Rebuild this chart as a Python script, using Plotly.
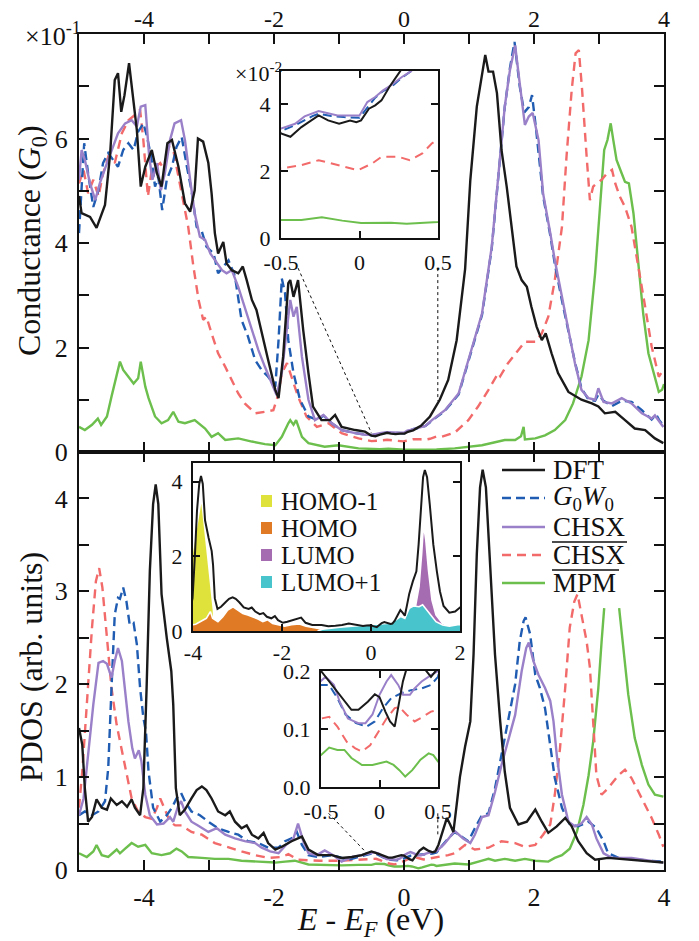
import plotly.graph_objects as go

W, H = 699, 941
FONT = "Liberation Serif"
INK = "#111111"

# ---------------- data: top panel, conductance in units of 1e-1 G0 ----------------
dft_top_x = [-5.0, -4.96, -4.83, -4.73, -4.6, -4.52, -4.45, -4.40, -4.35, -4.30, -4.23, -4.16, -4.11, -4.05,
             -3.98, -3.88, -3.80, -3.73, -3.64, -3.57, -3.47, -3.37, -3.29, -3.22, -3.17, -3.09, -3.01, -2.96,
             -2.91, -2.86, -2.78, -2.73, -2.65, -2.55, -2.48, -2.42, -2.34, -2.27, -2.19, -2.09, -1.98, -1.93,
             -1.86, -1.78, -1.75, -1.70, -1.63, -1.55, -1.47, -1.40, -1.27, -1.14, -1.06, -0.96, -0.75, -0.60,
             -0.5, -0.44, -0.37, -0.26, -0.20, -0.13, -0.06, -0.02, 0.01, 0.06, 0.10, 0.14, 0.19, 0.26,
             0.40, 0.55, 0.68, 0.81, 0.94, 1.02, 1.12, 1.20, 1.25, 1.30, 1.37, 1.43, 1.50, 1.58, 1.66, 1.73,
             1.81, 1.89, 1.96, 2.04, 2.12, 2.18, 2.27, 2.37, 2.53, 2.73, 2.89, 2.99, 3.09, 3.25, 3.40, 3.55,
             3.71, 3.86, 3.99]
dft_top_y = [4.9, 4.57, 4.5, 4.29, 4.73, 5.72, 7.12, 7.25, 6.51, 6.83, 7.44, 6.68, 6.16, 5.08,
             5.46, 5.78, 5.33, 5.08, 5.91, 5.97, 5.46, 4.76, 4.60, 5.01, 6.0, 5.94, 5.53, 4.95,
             4.19, 3.80, 4.02, 3.61, 3.48, 3.42, 3.55, 3.29, 2.91, 2.72, 2.27, 1.76, 1.19, 1.03,
             1.82, 3.23, 3.29, 2.97, 3.29, 2.33, 1.51, 0.87, 0.61, 0.61, 0.71, 0.48, 0.42, 0.39,
             0.313, 0.303, 0.332, 0.367, 0.352, 0.342, 0.352, 0.347, 0.352, 0.387, 0.397, 0.412, 0.452, 0.50,
             0.68, 1.0, 1.38, 2.14, 3.5, 5.2, 6.61, 7.25, 7.6, 7.28, 7.28, 6.87, 5.78, 5.08, 4.31, 3.55,
             3.29, 3.16, 2.78, 2.40, 2.14, 2.27, 1.89, 1.51, 1.15, 1.0, 0.93, 0.87, 0.74, 0.77, 0.61, 0.45,
             0.42, 0.26, 0.17]

g0w0_top_x = [-5.0, -4.96, -4.92, -4.86, -4.78, -4.70, -4.63, -4.55, -4.47, -4.40, -4.32, -4.24, -4.16, -4.09,
              -4.01, -3.96, -3.89, -3.83, -3.78, -3.72, -3.65, -3.57, -3.50, -3.42, -3.34, -3.27, -3.19, -3.11,
              -3.04, -2.93, -2.86, -2.78, -2.70, -2.60, -2.50, -2.40, -2.29, -2.19, -2.09, -1.98, -1.93, -1.88,
              -1.83, -1.78, -1.70, -1.60, -1.47, -1.32, -1.24, -1.11, -0.96, -0.75, -0.60,
              -0.5, -0.4, -0.3, -0.26, -0.18, -0.1, 0.0, 0.05, 0.1, 0.15, 0.2, 0.27, 0.33,
              0.43, 0.63, 0.84, 0.99, 1.20, 1.35, 1.45, 1.55, 1.63, 1.70, 1.78, 1.85, 1.92, 1.97, 2.03, 2.10,
              2.14, 2.25, 2.32, 2.43, 2.53, 2.63, 2.73, 2.84, 2.94, 2.99, 3.07, 3.2, 3.35, 3.5, 3.66, 3.81,
              3.88, 3.93, 4.0]
g0w0_top_y = [4.19, 5.14, 5.91, 5.33, 4.69, 5.01, 5.53, 5.72, 5.59, 5.46, 5.78, 5.91, 5.78, 6.13,
              6.29, 6.07, 5.65, 5.08, 5.27, 4.63, 5.21, 5.46, 5.84, 6.03, 5.46, 5.01, 4.31, 4.22,
              3.93, 3.80, 3.42, 3.55, 3.67, 3.36, 2.53, 2.21, 1.76, 1.57, 1.44, 1.25, 2.14, 3.32,
              3.04, 2.14, 1.51, 1.00, 0.68, 0.61, 0.70, 0.55, 0.42, 0.36, 0.33,
              0.32, 0.34, 0.365, 0.372, 0.365, 0.362, 0.36, 0.39, 0.42, 0.44, 0.452, 0.48, 0.50,
              0.60, 0.79, 1.10, 1.74, 2.62, 3.90, 5.30, 6.60, 7.35, 7.85, 7.0, 6.5, 6.6, 6.83, 6.2, 5.4,
              4.9, 4.15, 3.6, 2.9, 2.3, 1.72, 1.22, 1.0, 0.98, 1.1, 0.98, 0.88, 0.98, 0.96, 0.8, 0.62,
              0.72, 0.6, 0.5]

chsx_top_x = [-5.0, -4.96, -4.91, -4.83, -4.75, -4.68, -4.57, -4.50, -4.40, -4.29, -4.19, -4.11, -4.05, -3.98,
              -3.92, -3.87, -3.80, -3.74, -3.68, -3.60, -3.53, -3.43, -3.37, -3.29, -3.22, -3.14, -3.06, -2.98,
              -2.91, -2.80, -2.73, -2.65, -2.55, -2.45, -2.34, -2.24, -2.14, -2.04, -1.96, -1.88, -1.78, -1.75,
              -1.70, -1.65, -1.57, -1.47, -1.37, -1.24, -1.11, -0.96, -0.75, -0.60,
              -0.5, -0.41, -0.35, -0.26, -0.14, -0.06, 0.0, 0.05, 0.10, 0.15, 0.20, 0.27, 0.33,
              0.43, 0.63, 0.84, 0.99, 1.20, 1.35, 1.45, 1.55, 1.63, 1.71, 1.78, 1.86, 1.92, 1.98, 2.07, 2.14,
              2.25, 2.32, 2.43, 2.53, 2.63, 2.73, 2.84, 2.94, 2.99, 3.07, 3.20, 3.35, 3.50, 3.66, 3.81, 3.86,
              3.99]
chsx_top_y = [5.21, 5.78, 5.59, 5.14, 4.82, 5.14, 5.53, 5.78, 6.10, 6.29, 6.35, 6.23, 6.61, 6.64,
              5.65, 5.21, 5.53, 5.01, 5.33, 5.97, 6.29, 6.35, 5.97, 5.21, 4.57, 4.12, 4.06, 3.80,
              3.67, 3.48, 3.42, 3.48, 3.16, 2.78, 2.33, 1.95, 1.63, 1.31, 1.09, 1.51, 2.65, 2.91,
              2.59, 2.78, 1.82, 1.0, 0.61, 0.71, 0.55, 0.42, 0.36, 0.33,
              0.328, 0.342, 0.364, 0.380, 0.367, 0.367, 0.367, 0.407, 0.422, 0.442, 0.457, 0.482, 0.50,
              0.61, 0.80, 1.12, 1.76, 2.65, 3.93, 5.33, 6.61, 7.31, 7.78, 7.06, 6.26, 6.42, 6.49, 5.97, 4.95,
              4.19, 3.67, 2.97, 2.33, 1.70, 1.19, 1.03, 1.0, 1.22, 0.96, 0.93, 1.03, 0.93, 0.74, 0.64, 0.70,
              0.48]

chsxbar_top_x = [-5.0, -4.93, -4.86, -4.78, -4.70, -4.63, -4.55, -4.45, -4.34, -4.24, -4.14, -4.06, -4.01, -3.94,
                 -3.88, -3.82, -3.75, -3.69, -3.62, -3.55, -3.47, -3.40, -3.32, -3.24, -3.16, -3.09, -3.04, -2.96,
                 -2.86, -2.75, -2.65, -2.55, -2.45, -2.29, -2.14, -2.01, -1.93, -1.88, -1.80, -1.73, -1.63, -1.50,
                 -1.34, -1.16, -0.96, -0.70,
                 -0.5, -0.37, -0.26, -0.14, -0.01, 0.08, 0.14, 0.25, 0.32, 0.40, 0.46, 0.5,
                 0.58, 0.78, 0.99, 1.14, 1.30, 1.45, 1.48, 1.60, 1.76, 1.86, 2.02, 2.12, 2.22, 2.32, 2.43, 2.50,
                 2.58, 2.64, 2.69, 2.74, 2.81, 2.86, 2.91, 2.96, 3.04, 3.12, 3.20, 3.25, 3.32, 3.40, 3.50, 3.61,
                 3.71, 3.81, 3.92, 3.99]
chsxbar_top_y = [5.14, 5.40, 4.95, 5.21, 4.89, 5.33, 5.65, 5.53, 6.10, 6.35, 6.45, 6.55, 5.97, 4.89,
                 5.40, 5.46, 5.53, 5.40, 5.84, 5.78, 5.27, 4.89, 4.31, 3.55, 2.91, 2.53, 2.59, 2.27,
                 1.89, 1.63, 1.38, 1.12, 0.93, 0.74, 0.77, 0.80, 1.12, 1.51, 1.70, 1.44, 1.06, 0.68,
                 0.48, 0.55, 0.36, 0.26,
                 0.208, 0.218, 0.233, 0.218, 0.203, 0.223, 0.243, 0.243, 0.233, 0.253, 0.283, 0.295,
                 0.29, 0.37, 0.61, 0.87, 1.19, 1.51, 1.45, 1.70, 1.95, 2.11, 2.11, 2.27, 2.59, 3.29, 4.31, 5.65,
                 6.93, 7.63, 7.69, 6.93, 5.65, 4.82, 5.08, 5.14, 5.21, 5.33, 5.40, 5.14, 4.89, 4.69, 4.31, 3.55,
                 2.78, 2.02, 1.44, 1.57]

mpm_top_x = [-5.0, -4.91, -4.80, -4.71, -4.66, -4.57, -4.50, -4.42, -4.37, -4.32, -4.24, -4.16, -4.09, -4.05,
             -3.98, -3.93, -3.83, -3.73, -3.63, -3.55, -3.47, -3.37, -3.22, -3.06, -2.96, -2.86, -2.75, -2.55,
             -2.34, -2.14, -1.98, -1.88, -1.78, -1.75, -1.70, -1.66, -1.57, -1.47, -1.22, -1.01, -0.70,
             -0.5, -0.37, -0.24, -0.11, 0.01, 0.2, 0.3, 0.5,
             0.78, 1.20, 1.55, 1.71, 1.80, 1.84, 1.86, 2.02, 2.17, 2.32, 2.48, 2.60, 2.73, 2.84, 2.94, 3.02,
             3.08, 3.13, 3.18, 3.22, 3.27, 3.35, 3.40, 3.46, 3.53, 3.61, 3.68, 3.76, 3.84, 3.92, 3.97, 4.0]
mpm_top_y = [0.48, 0.42, 0.52, 0.64, 0.52, 0.68, 1.06, 1.51, 1.73, 1.57, 1.44, 1.31, 1.41, 1.73,
             1.25, 1.03, 0.68, 0.55, 0.61, 0.77, 0.58, 0.55, 0.61, 0.45, 0.29, 0.36, 0.23, 0.26,
             0.20, 0.15, 0.13, 0.29, 0.55, 0.61, 0.52, 0.61, 0.29, 0.17, 0.10, 0.13, 0.07,
             0.054, 0.054, 0.062, 0.052, 0.045, 0.046, 0.043, 0.048,
             0.07, 0.13, 0.23, 0.23, 0.30, 0.48, 0.24, 0.26, 0.32, 0.42, 0.61, 0.93, 1.44, 2.14, 3.42, 4.69,
             5.78, 5.97, 6.29, 5.97, 5.59, 5.33, 5.17, 5.14, 4.57, 3.55, 2.65, 1.89, 1.51, 1.15, 1.19, 1.3]

# ---------------- data: bottom panel, PDOS (arb. units) ----------------
dft_bot_x = [-5.0, -4.95, -4.91, -4.86, -4.80, -4.73, -4.65, -4.57, -4.51, -4.42, -4.34, -4.26, -4.19, -4.14,
             -4.06, -4.01, -3.96, -3.91, -3.86, -3.82, -3.78, -3.73, -3.65, -3.58, -3.55, -3.51, -3.45, -3.37,
             -3.27, -3.19, -3.11, -3.04, -2.96, -2.86, -2.75, -2.68, -2.60, -2.50, -2.42, -2.34, -2.24, -2.16,
             -2.09, -1.98, -1.88, -1.73, -1.57, -1.47, -1.32, -1.11, -0.96, -0.80, -0.65,
             -0.5, -0.38, -0.29, -0.24, -0.18, -0.10, -0.04, 0.0, 0.05, 0.09, 0.13, 0.16, 0.20, 0.24, 0.30,
             0.38, 0.44, 0.48,
             0.53, 0.61, 0.66, 0.71, 0.76, 0.81, 0.86, 0.94, 1.02, 1.07, 1.12, 1.17, 1.21, 1.26, 1.32, 1.40,
             1.48, 1.55, 1.63, 1.76, 1.89, 2.02, 2.12, 2.22, 2.35, 2.48, 2.58, 2.68, 2.81, 2.94, 3.14, 3.45,
             3.76, 3.99]
dft_bot_y = [1.53, 1.35, 0.88, 0.52, 0.57, 0.76, 0.67, 0.65, 0.77, 0.70, 0.74, 0.68, 0.76, 0.67,
             0.59, 0.88, 1.96, 3.22, 3.94, 4.15, 3.94, 2.97, 2.50, 2.14, 1.78, 0.88, 0.59, 0.65,
             0.77, 0.86, 0.90, 0.86, 0.77, 0.63, 0.59, 0.63, 0.52, 0.45, 0.48, 0.38, 0.34, 0.40,
             0.29, 0.22, 0.25, 0.31, 0.36, 0.22, 0.16, 0.16, 0.13, 0.14, 0.16,
             0.20, 0.17, 0.147, 0.133, 0.133, 0.147, 0.16, 0.155, 0.13, 0.113, 0.104, 0.136, 0.182, 0.21, 0.24,
             0.205, 0.19, 0.20,
             0.27, 0.45, 0.56, 0.49, 0.41, 0.70, 1.0, 1.33, 1.60, 2.32, 3.40, 4.12, 4.31, 4.12, 3.40, 2.32,
             1.60, 1.06, 0.67, 0.49, 0.52, 0.65, 0.52, 0.40, 0.47, 0.56, 0.47, 0.31, 0.18, 0.11, 0.13, 0.11,
             0.09, 0.08]

g0w0_bot_x = [-5.0, -4.91, -4.80, -4.70, -4.60, -4.55, -4.50, -4.45, -4.40, -4.37, -4.32, -4.27, -4.22, -4.16,
              -4.11, -4.06, -4.01, -3.97, -3.93, -3.86, -3.75, -3.65, -3.57, -3.50, -3.43, -3.37, -3.27, -3.14,
              -3.01, -2.86, -2.70, -2.55, -2.40, -2.24, -2.09, -1.93, -1.83, -1.73, -1.65, -1.57, -1.47, -1.32,
              -1.11, -0.86, -0.65,
              -0.5, -0.43, -0.36, -0.29, -0.20, -0.11, -0.04, 0.03, 0.10, 0.19, 0.27, 0.36, 0.44, 0.5,
              0.68, 0.78, 0.88, 0.99, 1.09, 1.20, 1.30, 1.40, 1.50, 1.60, 1.71, 1.78, 1.84, 1.87, 1.94, 2.02,
              2.09, 2.17, 2.25, 2.32, 2.43, 2.55, 2.68, 2.84, 2.96, 3.07, 3.14, 3.30, 3.61, 3.97]
g0w0_bot_y = [0.59, 0.63, 0.59, 0.63, 0.74, 1.10, 1.96, 2.75, 2.93, 2.92, 3.04, 2.89, 2.64, 2.66,
              2.43, 1.96, 1.64, 1.49, 1.06, 0.67, 0.52, 0.59, 0.67, 0.77, 0.83, 0.74, 0.63, 0.59,
              0.52, 0.45, 0.41, 0.38, 0.31, 0.29, 0.24, 0.24, 0.31, 0.34, 0.41, 0.27, 0.16, 0.14,
              0.16, 0.11, 0.15,
              0.176, 0.176, 0.153, 0.125, 0.110, 0.104, 0.113, 0.136, 0.153, 0.162, 0.167, 0.170, 0.176, 0.19,
              0.34, 0.41, 0.36, 0.31, 0.45, 0.59, 0.61, 0.88, 1.24, 1.60, 2.0, 2.46, 2.68, 2.72, 2.54, 2.10,
              1.96, 1.74, 1.35, 0.99, 0.67, 0.49, 0.47, 0.52, 0.45, 0.31, 0.18, 0.13, 0.11, 0.09]

chsx_bot_x = [-5.0, -4.93, -4.86, -4.78, -4.70, -4.63, -4.57, -4.50, -4.45, -4.40, -4.34, -4.29, -4.24, -4.18,
              -4.14, -4.08, -4.04, -3.98, -3.91, -3.80, -3.70, -3.60, -3.55, -3.47, -3.43, -3.37, -3.27, -3.17,
              -3.01, -2.88, -2.75, -2.60, -2.45, -2.29, -2.19, -2.06, -1.93, -1.83, -1.70, -1.63, -1.55, -1.47,
              -1.34, -1.22, -1.09, -0.96, -0.80, -0.65,
              -0.5, -0.46, -0.39, -0.34, -0.27, -0.18, -0.12, -0.06, 0.0, 0.06, 0.10, 0.16, 0.20, 0.26, 0.30,
              0.36, 0.44, 0.5,
              0.62, 0.78, 0.91, 1.02, 1.09, 1.20, 1.30, 1.40, 1.50, 1.60, 1.71, 1.81, 1.88, 1.92, 1.99, 2.07,
              2.17, 2.25, 2.30, 2.35, 2.43, 2.53, 2.63, 2.73, 2.81, 2.89, 2.96, 3.07, 3.20, 3.50, 3.86, 3.99]
chsx_bot_y = [0.59, 0.77, 1.24, 1.78, 2.23, 2.25, 2.22, 2.07, 2.25, 2.39, 2.25, 1.89, 1.60, 1.31,
              1.20, 1.29, 1.17, 0.81, 0.59, 0.49, 0.50, 0.57, 0.52, 0.70, 0.74, 0.63, 0.52, 0.48,
              0.41, 0.45, 0.38, 0.34, 0.31, 0.29, 0.24, 0.20, 0.18, 0.26, 0.34, 0.50, 0.31, 0.18,
              0.16, 0.21, 0.16, 0.09, 0.14, 0.16,
              0.183, 0.19, 0.176, 0.147, 0.118, 0.110, 0.110, 0.125, 0.159, 0.182, 0.193, 0.176, 0.159, 0.159, 0.17,
              0.182, 0.193, 0.20,
              0.28, 0.42, 0.34, 0.29, 0.38, 0.57, 0.59, 0.84, 1.13, 1.38, 1.67, 2.14, 2.39, 2.45, 2.25, 2.10,
              1.96, 1.82, 1.60, 1.24, 0.81, 0.52, 0.47, 0.50, 0.57, 0.49, 0.34, 0.18, 0.13, 0.13, 0.09, 0.08]

chsxbar_bot_x = [-5.0, -4.95, -4.88, -4.80, -4.74, -4.69, -4.64, -4.57, -4.50, -4.42, -4.34, -4.27, -4.19, -4.09,
                 -3.98, -3.88, -3.80, -3.75, -3.69, -3.60, -3.52, -3.42, -3.27, -3.11, -2.91, -2.70, -2.50, -2.29,
                 -2.09, -1.88, -1.78, -1.63, -1.3, -1.0, -0.7,
                 -0.5, -0.43, -0.36, -0.28, -0.21, -0.15, -0.08, -0.01, 0.06, 0.13, 0.17, 0.23, 0.30, 0.37, 0.44, 0.5,
                 0.68, 0.78, 0.94, 1.09, 1.30, 1.50, 1.71, 1.86, 2.02, 2.14, 2.25, 2.32, 2.40, 2.48, 2.55, 2.62,
                 2.67, 2.73, 2.81, 2.86, 2.91, 2.96, 3.04, 3.14, 3.30, 3.40, 3.50, 3.66, 3.81, 3.92, 3.99]
chsxbar_bot_y = [0.67, 1.06, 1.78, 2.61, 3.11, 3.25, 3.04, 2.50, 1.96, 1.56, 1.28, 1.02, 0.77, 0.63,
                 0.57, 0.55, 0.67, 0.77, 0.67, 0.52, 0.48, 0.48, 0.41, 0.38, 0.29, 0.24, 0.20, 0.16,
                 0.13, 0.14, 0.17, 0.11, 0.10, 0.10, 0.11,
                 0.118, 0.121, 0.104, 0.078, 0.067, 0.061, 0.072, 0.095, 0.118, 0.136, 0.138, 0.125, 0.113, 0.121, 0.13, 0.133,
                 0.16, 0.18, 0.27, 0.22, 0.24, 0.31, 0.29, 0.25, 0.27, 0.38, 0.49, 0.81, 1.31, 1.96, 2.61, 2.89,
                 2.97, 2.75, 2.46, 2.18, 1.60, 1.02, 0.81, 0.88, 1.02, 1.08, 0.99, 0.77, 0.56, 0.38, 0.25]

# the MPM peak near 3.2 eV is hidden behind the legend in the original: left as a gap
mpm_bot_x = [-5.0, -4.88, -4.78, -4.73, -4.65, -4.55, -4.42, -4.37, -4.29, -4.19, -4.09, -3.98, -3.88, -3.73,
             -3.60, -3.50, -3.42, -3.32, -3.11, -2.91, -2.70, -2.50, -2.24, -1.98, -1.83, -1.68, -1.47, -0.96, -0.7,
             -0.5, -0.43, -0.36, -0.30, -0.24, -0.15, -0.06, 0.0, 0.06, 0.12, 0.17, 0.22, 0.28, 0.35, 0.42, 0.46, 0.5,
             0.78, 0.99, 1.20, 1.30, 1.40, 1.55, 1.71, 1.86, 2.02, 2.22, 2.32, 2.43, 2.55, 2.66, 2.76, 2.84,
             2.91, 2.99, 3.04, 3.08, 3.2, 3.31, 3.38, 3.45, 3.55, 3.66, 3.76, 3.86, 3.99]
mpm_bot_y = [0.18, 0.14, 0.20, 0.27, 0.16, 0.14, 0.22, 0.18, 0.23, 0.29, 0.25, 0.27, 0.18, 0.16,
             0.18, 0.23, 0.20, 0.14, 0.13, 0.12, 0.12, 0.10, 0.09, 0.08, 0.09, 0.10, 0.06, 0.05, 0.055,
             0.055, 0.068, 0.064, 0.064, 0.05, 0.038, 0.038, 0.041, 0.044, 0.038, 0.029, 0.018, 0.029, 0.047, 0.058, 0.055, 0.044,
             0.07, 0.06, 0.10, 0.12, 0.10, 0.12, 0.10, 0.12, 0.10, 0.09, 0.13, 0.16, 0.23, 0.41, 0.70, 1.02,
             1.38, 1.96, 2.46, 2.82, None, 2.82, 2.32, 1.89, 1.42, 1.13, 0.92, 0.81, 0.79]

# ---------------- data: orbital-projected PDOS (inset), cumulative top edges ----------------
homo_x = [-4.1, -3.98, -3.94, -3.70, -3.61, -3.56, -3.44, -3.33, -3.22, -3.10, -2.99, -2.88, -2.77, -2.66,
          -2.54, -2.43, -2.32, -2.21, -2.09, -1.94, -1.79, -1.61, -1.46, -1.27, -1.09, -0.70, -0.4]
homo_y = [0.15, 0.16, 0.18, 0.34, 0.52, 0.34, 0.25, 0.38, 0.56, 0.65, 0.56, 0.47, 0.43, 0.38,
          0.32, 0.25, 0.30, 0.20, 0.17, 0.13, 0.17, 0.19, 0.13, 0.09, 0.05, 0.02, 0.0]
homo1_x = [-4.1, -3.99, -3.89, -3.81, -3.74, -3.66, -3.59, -3.54, -3.52]
homo1_y = [1.5, 2.3, 3.07, 3.57, 2.80, 1.91, 1.01, 0.55, 0.0]
lumo1_x = [-1.2, -1.09, -0.70, -0.33, 0.04, 0.41, 0.56, 0.67, 0.76, 0.86, 0.95, 1.08, 1.16, 1.25,
           1.35, 1.46, 1.61, 1.76, 1.95, 2.05]
lumo1_y = [0.0, 0.05, 0.10, 0.13, 0.16, 0.21, 0.30, 0.39, 0.34, 0.61, 0.67, 0.65, 0.70, 0.56,
           0.39, 0.25, 0.16, 0.13, 0.17, 0.17]
lumo_x = [0.9, 1.0, 1.08, 1.14, 1.18, 1.23, 1.29, 1.37, 1.46, 1.61, 1.76, 1.9]
lumo_y = [0.0, 0.65, 1.19, 2.09, 2.85, 2.45, 1.64, 0.83, 0.43, 0.20, 0.14, 0.0]

# ---------------- labels / ticks ----------------
series_names = ["DFT", "<i>G</i><sub>0</sub><i>W</i><sub>0</sub>", "CHSX", "CHSX", "MPM"]
series_overline = [False, False, False, True, True]
orbital_names = ["HOMO-1", "HOMO", "LUMO", "LUMO+1"]
main_xticks = [-4, -2, 0, 2, 4]
main_xticklabels = ["-4", "-2", "0", "2", "4"]
main_xminor = [-5, -3, -1, 1, 3]
top_yticks = [0, 2, 4, 6]
top_yticklabels = ["0", "2", "4", "6"]
top_yminor = [1, 3, 5, 7]
bot_yticks = [0, 1, 2, 3, 4]
bot_yticklabels = ["0", "1", "2", "3", "4"]
bot_yminor = [0.5, 1.5, 2.5, 3.5]
zoom_xticks = [-0.5, 0, 0.5]
zoom_xticklabels = ["-0.5", "0", "0.5"]
tinset_yticks = [0, 2, 4]
tinset_yticklabels = ["0", "2", "4"]
finset_xticks = [-4, -2, 0, 2]
finset_xticklabels = ["-4", "-2", "0", "2"]
finset_yticks = [0, 2, 4]
finset_yticklabels = ["0", "2", "4"]
sinset_yticks = [0, 0.1, 0.2]
sinset_yticklabels = ["0.0", "0.1", "0.2"]

# ---------------- styles ----------------
C_DFT, C_GW, C_CH, C_CHB, C_MPM = "#1a1a1a", "#1f5cb2", "#9a80c8", "#f26a6a", "#6cbf4c"
C_HOMO1, C_HOMO, C_LUMO, C_LUMO1 = "#e0e23c", "#e07a24", "#a66cb2", "#48c4cc"
styles = [(C_DFT, None), (C_GW, "9px,5px"), (C_CH, None), (C_CHB, "9px,6px"), (C_MPM, None)]


def fx(px):
    return px / W


def fy(py):
    return 1 - py / H


fig = go.Figure()

top_data = [(dft_top_x, dft_top_y), (g0w0_top_x, g0w0_top_y), (chsx_top_x, chsx_top_y),
            (chsxbar_top_x, chsxbar_top_y), (mpm_top_x, mpm_top_y)]
bot_data = [(dft_bot_x, dft_bot_y), (g0w0_bot_x, g0w0_bot_y), (chsx_bot_x, chsx_bot_y),
            (chsxbar_bot_x, chsxbar_bot_y), (mpm_bot_x, mpm_bot_y)]
draw_order = [4, 3, 1, 2, 0]


def add_line(x, y, i, xa, ya, width):
    color, dash = styles[i]
    fig.add_trace(go.Scatter(x=x, y=y, mode="lines", xaxis=xa, yaxis=ya, showlegend=False,
                             line=dict(color=color, width=width, dash=dash or "solid"),
                             connectgaps=False, hoverinfo="skip"))


# main panels
for i in draw_order:
    add_line(*top_data[i], i, "x", "y", 2.4)
for i in draw_order:
    add_line(*bot_data[i], i, "x2", "y2", 2.4)
# top inset (1e-2 units)
for i in draw_order:
    x, y = top_data[i]
    add_line(x, [v * 10 for v in y], i, "x3", "y3", 2.0)
# orbital inset
for ox, oy, col in [(homo1_x, homo1_y, C_HOMO1), (homo_x, homo_y, C_HOMO),
                    (lumo_x, lumo_y, C_LUMO), (lumo1_x, lumo1_y, C_LUMO1)]:
    fig.add_trace(go.Scatter(x=ox, y=oy, mode="lines", xaxis="x4", yaxis="y4", fill="tozeroy",
                             fillcolor=col, line=dict(color="white", width=1.6), showlegend=False,
                             hoverinfo="skip"))
add_line(dft_bot_x, dft_bot_y, 0, "x4", "y4", 2.0)
# small PDOS inset
for i in draw_order:
    add_line(*bot_data[i], i, "x5", "y5", 2.0)


def axis(domain, rng, anchor, tickvals, ticktext, size=26, ticklen=10, minor=None, mirror="allticks",
         side=None, standoff=None):
    d = dict(domain=domain, range=rng, anchor=anchor, showline=True, linecolor=INK, linewidth=2,
             mirror=mirror, ticks="inside", ticklen=ticklen, tickwidth=1.6, tickcolor=INK,
             showgrid=False, zeroline=False, tickmode="array", tickvals=tickvals, ticktext=ticktext,
             tickfont=dict(family=FONT, size=size, color=INK), fixedrange=True, automargin=False)
    if minor is not None:
        d["minor"] = dict(tickmode="array", tickvals=minor, ticks="inside", ticklen=ticklen,
                          tickwidth=1.6, tickcolor=INK, showgrid=False)
    if side:
        d["side"] = side
    if standoff is not None:
        d["ticklabelstandoff"] = standoff
    return d


XD = [fx(79), fx(664)]
layout = dict(
    template="none",
    width=W, height=H, margin=dict(l=0, r=0, t=0, b=0, pad=0), autosize=False,
    paper_bgcolor="white", plot_bgcolor="white", showlegend=False,
    font=dict(family=FONT, color=INK),
    xaxis=axis(XD, [-5, 4], "y", main_xticks, main_xticklabels, size=24, minor=main_xminor, side="top",
               standoff=-5),
    yaxis=axis([fy(452), fy(34)], [0, 8], "x", top_yticks, top_yticklabels, minor=top_yminor, standoff=4),
    xaxis2=axis(XD, [-5, 4], "y2", main_xticks, main_xticklabels, minor=main_xminor, standoff=3),
    yaxis2=axis([fy(870), fy(452)], [0, 4.5], "x2", bot_yticks, bot_yticklabels, minor=bot_yminor, standoff=4),
    xaxis3=axis([fx(281), fx(438)], [-0.5, 0.5], "y3", zoom_xticks, zoom_xticklabels, size=22, ticklen=7,
                standoff=4),
    yaxis3=axis([fy(238), fy(71)], [0, 5], "x3", tinset_yticks, tinset_yticklabels, size=22, ticklen=7,
                standoff=4),
    xaxis4=axis([fx(193), fx(460)], [-4, 2], "y4", finset_xticks, finset_xticklabels, size=22, ticklen=7,
                mirror=True, standoff=1),
    yaxis4=axis([fy(631), fy(463)], [0, 4.5], "x4", finset_yticks, finset_yticklabels, size=22, ticklen=7,
                standoff=4),
    xaxis5=axis([fx(321), fx(438)], [-0.5, 0.5], "y5", zoom_xticks, zoom_xticklabels, size=22, ticklen=7,
                standoff=4),
    yaxis5=axis([fy(787), fy(671)], [0, 0.2], "x5", sinset_yticks, sinset_yticklabels, size=22, ticklen=7,
                standoff=4),
)

shapes = []
annotations = []
# dotted connectors from insets to the zoomed region
dot = dict(color=INK, width=1, dash="dot")
shapes += [
    dict(type="line", xref="x", yref="y", x0=-1.63, y0=3.52, x1=-0.5, y1=0.36, line=dot),
    dict(type="line", xref="x", yref="y", x0=0.52, y0=3.52, x1=0.52, y1=0.98, line=dot),
    dict(type="line", xref="x2", yref="y2", x0=-1.16, y0=0.61, x1=-0.57, y1=0.18, line=dot),
    dict(type="line", xref="x2", yref="y2", x0=0.52, y0=0.61, x1=0.52, y1=0.38, line=dot),
]

# main legend (manual so that overlines can be drawn)
leg_rows = [470, 498, 527, 555, 583]
for i, py in enumerate(leg_rows):
    color, dash = styles[i]
    shapes.append(dict(type="line", xref="paper", yref="paper", x0=fx(502), x1=fx(545), y0=fy(py), y1=fy(py),
                       line=dict(color=color, width=2.6, dash=dash or "solid")))
    annotations.append(dict(text=series_names[i], xref="paper", yref="paper", x=fx(551), y=fy(py),
                            xanchor="left", yanchor="middle", showarrow=False,
                            font=dict(family=FONT, size=27, color=INK)))
    if series_overline[i]:
        ow = 75 if series_names[i] == "CHSX" else 67
        shapes.append(dict(type="line", xref="paper", yref="paper", x0=fx(552), x1=fx(552 + ow),
                           y0=fy(py - 13), y1=fy(py - 13), line=dict(color=INK, width=1.4)))

# orbital legend inside inset
orb_rows = [501, 528, 555, 582]
orb_cols = [C_HOMO1, C_HOMO, C_LUMO, C_LUMO1]
for name, col, py in zip(orbital_names, orb_cols, orb_rows):
    shapes.append(dict(type="rect", xref="paper", yref="paper", x0=fx(261), x1=fx(272), y0=fy(py + 6),
                       y1=fy(py - 6), fillcolor=col, line=dict(width=0)))
    annotations.append(dict(text=name, xref="paper", yref="paper", x=fx(279), y=fy(py), xanchor="left",
                            yanchor="middle", showarrow=False, font=dict(family=FONT, size=25, color=INK)))

# scale factors and axis titles
annotations += [
    dict(text="×10<sup>-1</sup>", xref="paper", yref="paper", x=fx(23), y=fy(34), xanchor="left",
         yanchor="middle", showarrow=False, font=dict(family=FONT, size=26, color=INK)),
    dict(text="×10<sup>-2</sup>", xref="paper", yref="paper", x=fx(233), y=fy(72), xanchor="left",
         yanchor="middle", showarrow=False, font=dict(family=FONT, size=22, color=INK)),
    dict(text="Conductance (<i>G</i><sub>0</sub>)", xref="paper", yref="paper", x=fx(31), y=fy(241),
         xanchor="center", yanchor="middle", textangle=-90, showarrow=False,
         font=dict(family=FONT, size=32, color=INK)),
    dict(text="PDOS (arb. units)", xref="paper", yref="paper", x=fx(31), y=fy(667),
         xanchor="center", yanchor="middle", textangle=-90, showarrow=False,
         font=dict(family=FONT, size=32, color=INK)),
    dict(text="<i>E</i> - <i>E</i><sub><i>F</i></sub> (eV)", xref="paper", yref="paper", x=fx(370),
         y=fy(921), xanchor="center", yanchor="middle", showarrow=False,
         font=dict(family=FONT, size=32, color=INK)),
]

layout["shapes"] = shapes
layout["annotations"] = annotations
fig.update_layout(**layout)

fig.write_html("out.html", post_script="document.body.style.margin='0';",
               config={"displayModeBar": False})
